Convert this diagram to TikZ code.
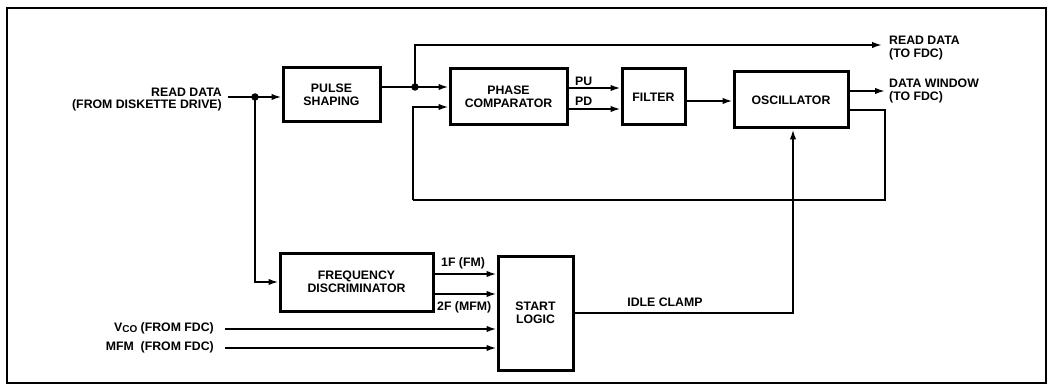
\documentclass[tikz,border=0pt]{standalone}
\usepackage{fontspec}
\setmainfont{Liberation Sans}
\usetikzlibrary{arrows.meta,calc}
\begin{document}
\begin{tikzpicture}[x=1pt,y=-1pt,
  font=\fontsize{12.3}{13.5}\selectfont\bfseries,
  blk/.style={draw,line width=3pt,align=center,inner sep=0pt},
  wire/.style={line width=1.8pt},
  arr/.style={wire,-{Latex[length=10pt,width=6.5pt]}},
  dot/.style={circle,fill,inner sep=0pt,minimum size=7.5pt},
  lbl/.style={inner sep=0pt,align=left}]
\useasboundingbox (0,0) rectangle (1050,385);
\draw[line width=2pt] (7,8) rectangle (1046,383);
% blocks
\node[blk,minimum width=97pt,minimum height=54pt] (ps) at (331.5,95) {PULSE\\SHAPING};
\node[blk,minimum width=117pt,minimum height=56pt] (pc) at (508.5,97) {PHASE\\COMPARATOR};
\node[blk,minimum width=63pt,minimum height=56pt] (filt) at (653.5,97) {FILTER};
\node[blk,minimum width=114pt,minimum height=56pt] (osc) at (791,100) {OSCILLATOR};
\node[blk,minimum width=153pt,minimum height=58pt] (fd) at (356.5,282) {FREQUENCY\\DISCRIMINATOR};
\node[blk,minimum width=75pt,minimum height=114pt] (sl) at (535.5,313) {START\\LOGIC};
% junctions and coordinates
\coordinate (inL) at (228,97);
\node[dot] (j1) at (255,97) {};
\node[dot] (j2) at (415,87) {};
\coordinate (rdT) at (415,45);
\coordinate (rdE) at (882,45);
\coordinate (fbR) at (885,110);
\coordinate (fbRB) at (885,200);
\coordinate (fbLB) at (413,200);
\coordinate (dwE) at (885,91);
\coordinate (icR) at (793,313);
\coordinate (vcoL) at (225,329);
\coordinate (mfmL) at (225,348);
% labels
\node[lbl,anchor=east] (rdin) at (222,92) {READ DATA};
\node[lbl,anchor=east] (rdin2) at (222,105) {(FROM DISKETTE DRIVE)};
\node[lbl,anchor=west] (rdo1) at (889,40) {READ DATA};
\node[lbl,anchor=west] (rdo2) at (889,54) {(TO FDC)};
\node[lbl,anchor=west] (dw1) at (889,83) {DATA WINDOW};
\node[lbl,anchor=west] (dw2) at (889,97) {(TO FDC)};
\node[lbl,anchor=west] (pu) at (575,81) {PU};
\node[lbl,anchor=west] (pd) at (575,101) {PD};
\node[lbl,anchor=west] (f1) at (441,263) {1F (FM)};
\node[lbl,anchor=west] (f2) at (437,307) {2F (MFM)};
\node[lbl] (ic) at (665,302) {IDLE CLAMP};
\node[lbl,anchor=east] (vco) at (214,328) {V\raisebox{-1.5pt}{\fontsize{10}{10}\selectfont CO} (FROM FDC)};
\node[lbl,anchor=east] (mfm) at (214,347) {MFM\ \ (FROM FDC)};
% connectors
\draw[arr] (inL) -- (inL -| ps.west);
\draw[arr] (j1.center) |- (fd.west);
\draw[wire] (ps.east |- j2) -- (j2.center);
\draw[arr] (j2.center) -- (j2 -| pc.west);
\draw[arr] (j2.center) -- (rdT) -- (rdE);
\draw[wire] (osc.east |- fbR) -- (fbR) -- (fbRB) -- (fbLB);
\draw[arr] (fbLB) -- ($(fbLB |- pc.west)+(0,10)$) -- ($(pc.west)+(0,10)$);
\draw[arr] ($(pc.east)+(0,-9)$) -- ($(filt.west)+(0,-9)$);
\draw[arr] ($(pc.east)+(0,12)$) -- ($(filt.west)+(0,12)$);
\draw[arr] ($(filt.east)+(0,4)$) -- ($(filt.east -| osc.west)+(0,4)$);
\draw[arr] ($(osc.east)+(0,-9)$) -- (dwE);
\draw[arr] ($(fd.east)+(0,-8)$) -- ($(fd.east -| sl.west)+(0,-8)$);
\draw[arr] ($(fd.east)+(0,12)$) -- ($(fd.east -| sl.west)+(0,12)$);
\draw[arr] (vcoL) -- (vcoL -| sl.west);
\draw[arr] (mfmL) -- (mfmL -| sl.west);
\draw[arr] (sl.east) -- (icR) -- (osc.south -| icR);
\end{tikzpicture}
\end{document}
